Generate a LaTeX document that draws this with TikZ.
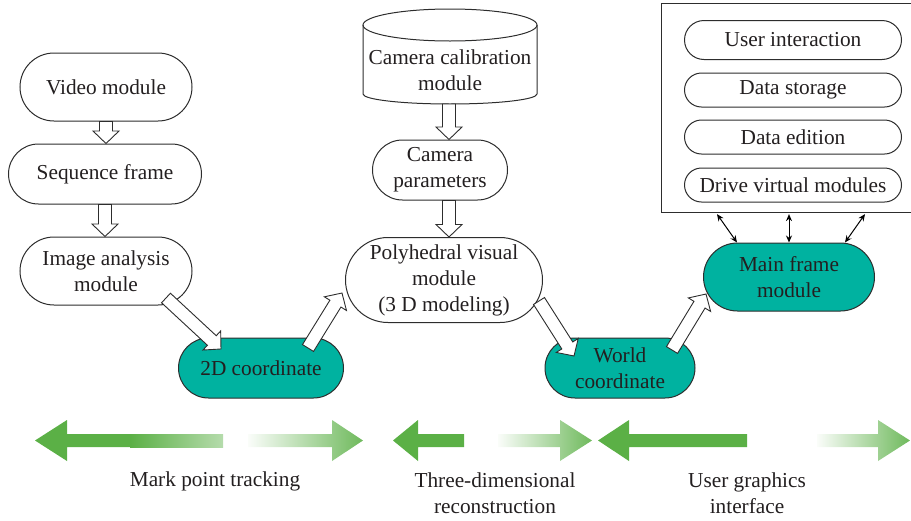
\documentclass[tikz,border=0pt]{standalone}
\usepackage{fontspec}
\setmainfont{Liberation Serif}
\usetikzlibrary{shapes.misc, calc, arrows.meta}

\definecolor{modteal}{RGB}{0,178,160}
\definecolor{bandgreen}{RGB}{91,176,70}
\definecolor{inkgray}{RGB}{45,45,45}
\definecolor{textdark}{RGB}{35,31,32}

\newcommand\diagfont{\fontsize{21.3}{26}\selectfont}

% Hollow block arrow from #1 (tail) to #2 (tip)
\newcommand\hollowarrow[2]{%
  \path let \p1=(#1), \p2=(#2),
            \n1={atan2(\y2-\y1,\x2-\x1)},
            \n2={veclen(\x2-\x1,\y2-\y1)} in
    \pgfextra{\xdef\haAngle{\n1}\xdef\haLen{\n2}\xdef\haX{\x1}\xdef\haY{\y1}};
  \draw[hollow, shift={(\haX,\haY)}, rotate=\haAngle]
    (0pt,-6.5pt) -- ({\haLen*1pt-12.5pt},-6.5pt) -- ({\haLen*1pt-12.5pt},-13pt)
    -- ({\haLen*1pt},0pt) -- ({\haLen*1pt-12.5pt},13pt) -- ({\haLen*1pt-12.5pt},6.5pt)
    -- (0pt,6.5pt) -- cycle;}

\begin{document}
\begin{tikzpicture}[x=1pt,y=-1pt,
  pill/.style={rounded rectangle, draw=inkgray, line width=1pt, fill=white,
    align=center, inner sep=0pt, text=textdark, font=\diagfont},
  tealpill/.style={pill, fill=modteal},
  hollow/.style={draw=inkgray, line width=0.9pt, fill=white, line join=miter},
  dblarrow/.style={{Stealth[length=7pt,width=6pt]}-{Stealth[length=7pt,width=6pt]}, line width=1pt, draw=black},
  bandlabel/.style={align=center, text=textdark, font=\diagfont, inner sep=0pt},
  outerbox/.style={draw=inkgray, line width=1.1pt, fill=white, inner sep=0pt}]

\useasboundingbox (0,0) rectangle (911,520);

% ---- left column: video processing chain
\node[pill, minimum width=172, minimum height=68] (vid) at (106,87) {Video module};
\node[pill, minimum width=193, minimum height=60] (seq) at (105,174) {Sequence frame};
\node[pill, minimum width=172, minimum height=68] (img) at (106,271) {Image analysis\\module};
\node[tealpill, minimum width=165, minimum height=60] (c2d) at (261,368) {2D coordinate};

% ---- middle column: calibration and reconstruction
\draw[inkgray, line width=1pt] (363,25) -- (363,94)
  arc[start angle=180, end angle=0, x radius=87, y radius=10] -- (537,25);
\draw[inkgray, line width=1pt] (450,25) ellipse[x radius=87, y radius=16];
\node[bandlabel] (cal) at (450,70) {Camera calibration\\module};
\node[pill, minimum width=135, minimum height=60] (cam) at (440,170) {Camera\\parameters};
\node[pill, minimum width=197, minimum height=85] (poly) at (444,280) {Polyhedral visual\\module\\(3 D modeling)};
\node[tealpill, minimum width=150, minimum height=60] (wc) at (620,368) {World\\coordinate};

% ---- right column: interface modules
\node[outerbox, minimum width=264, minimum height=209, anchor=north west] (box) at (661,3) {};
\node[pill, minimum width=217, minimum height=39] (ui) at (793,40) {User interaction};
\node[pill, minimum width=217, minimum height=34] (ds) at (793,90) {Data storage};
\node[pill, minimum width=217, minimum height=34] (de) at (793,137) {Data edition};
\node[pill, minimum width=217, minimum height=34] (dv) at (793,185) {Drive virtual modules};
\node[tealpill, minimum width=171, minimum height=68] (mf) at (789,277) {Main frame\\module};

% ---- data exchange between the module box and the main frame
\draw[dblarrow] ($(box.south west)+(56,1)$) -- ($(mf.north)+(-52,0)$);
\draw[dblarrow] ($(box.south west)+(128,1)$) -- (mf.north);
\draw[dblarrow] ($(box.south west)+(204,1)$) -- ($(mf.north)+(56,0)$);

% ---- hollow flow arrows
\hollowarrow{vid.south}{vid.south |- seq.north}
\hollowarrow{seq.south}{seq.south |- img.north}
\hollowarrow{$(img.center)+(60,27)$}{$(c2d.center)+(-40,-19)$}
\hollowarrow{$(c2d.center)+(47,-20)$}{$(poly.center)+(-102,13)$}
\hollowarrow{$(cal.center)+(-1,34)$}{$(cam.north)+(9,0)$}
\hollowarrow{$(cam.south)+(9,0)$}{$(poly.north)+(5,0)$}
\hollowarrow{$(poly.center)+(95,21)$}{$(wc.center)+(-46,-12)$}
\hollowarrow{$(wc.center)+(52,-18)$}{$(mf.center)+(-83,17)$}

% ---- stage bands
% stage 1
\fill[bandgreen] (35,440.5) -- (67,420) -- (67,434) -- (131,434) -- (131,447) -- (67,447) -- (67,461) -- cycle;
\shade[left color=bandgreen, right color=bandgreen!45] (130,434) rectangle (223,447);
\shade[left color=bandgreen!3, right color=bandgreen!88]
  (248,434) -- (332,434) -- (332,420) -- (363,440.5) -- (332,461) -- (332,447) -- (248,447) -- cycle;
% stage 2
\fill[bandgreen] (393,440.5) -- (418,420) -- (418,434) -- (464,434) -- (464,447) -- (418,447) -- (418,461) -- cycle;
\shade[left color=bandgreen!3, right color=bandgreen!88]
  (498,434) -- (560,434) -- (560,420) -- (592,440.5) -- (560,461) -- (560,447) -- (498,447) -- cycle;
% stage 3
\fill[bandgreen] (598,440.5) -- (629,420) -- (629,434) -- (747,434) -- (747,447) -- (629,447) -- (629,461) -- cycle;
\shade[left color=bandgreen!3, right color=bandgreen!88]
  (817,434) -- (878,434) -- (878,420) -- (910,440.5) -- (878,461) -- (878,447) -- (817,447) -- cycle;

\node[bandlabel] (lbl1) at (215,481) {Mark point tracking};
\node[bandlabel] (lbl2) at (495,493) {Three-dimensional\\reconstruction};
\node[bandlabel] (lbl3) at (747,493) {User graphics\\interface};
\end{tikzpicture}
\end{document}
